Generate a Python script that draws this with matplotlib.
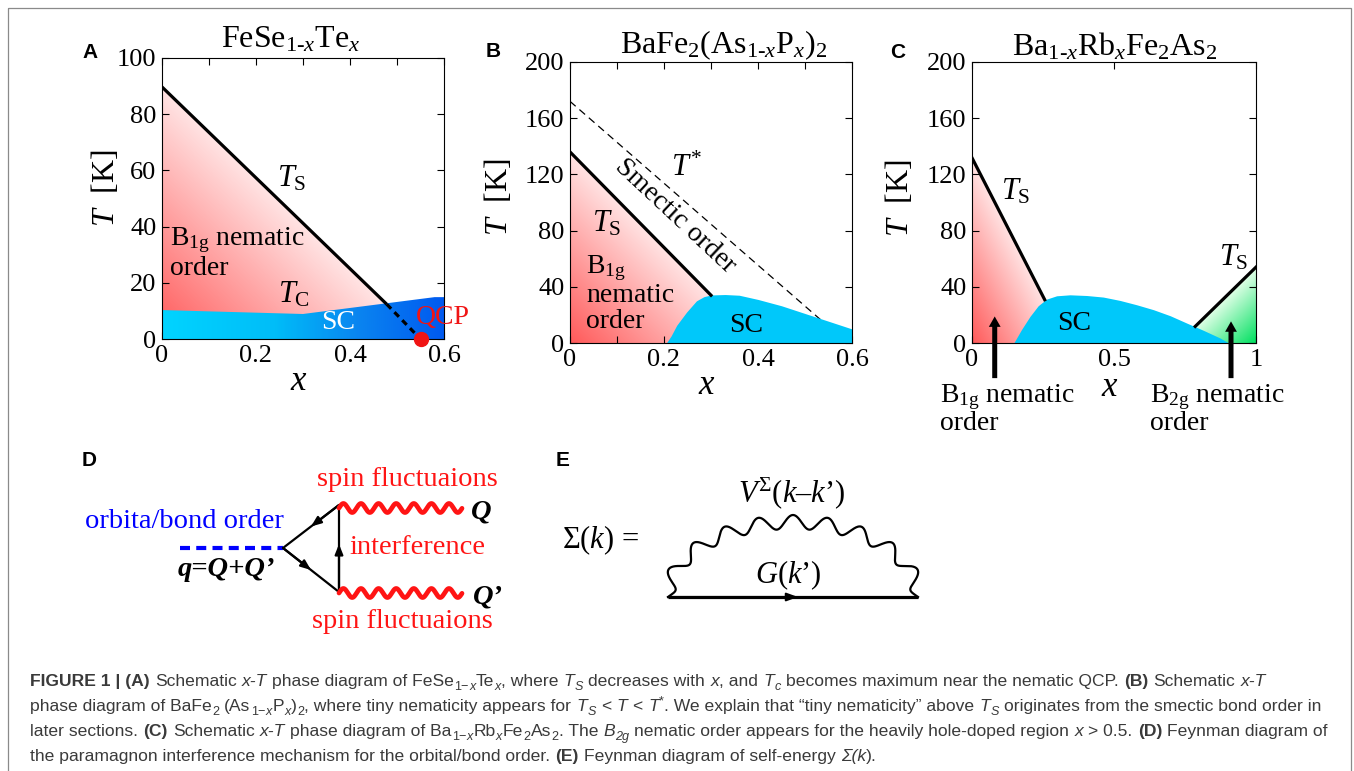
import numpy as np
import matplotlib
matplotlib.use("Agg")
import matplotlib.pyplot as plt
from matplotlib.colors import LinearSegmentedColormap
from matplotlib.patches import Polygon, Rectangle, FancyArrowPatch
from matplotlib.ticker import MultipleLocator, FuncFormatter

W, H = 1354, 771
SERIF = "Liberation Serif"
SANS = "Liberation Sans"

plt.rcParams.update({
    "font.family": SERIF,
    "mathtext.fontset": "custom",
    "mathtext.rm": SERIF,
    "mathtext.it": SERIF + ":italic",
    "mathtext.bf": SERIF + ":bold",
    "mathtext.sf": SANS,
})

# ── (A) FeSe1-xTex ────────────────────────────────────────────────
A_TS_X = [0.0, 0.478]          # T_S, solid part
A_TS_T = [89.7, 12.4]
A_QCP_X = 0.55                 # T_S -> 0
A_SC_X = [0.0, 0.30, 0.58, 0.60]
A_SC_T = [10.3, 8.9, 14.9, 14.9]

# ── (B) BaFe2(As1-xPx)2 ──────────────────────────────────────────
B_TS_X = [0.0, 0.30]
B_TS_T = [136.0, 34.0]
B_TS_END = 0.40
B_TSTAR_X = [0.0, 0.59]
B_TSTAR_T = [172.0, 0.0]
B_SC_X = [0.205, 0.215, 0.227, 0.248, 0.269, 0.285, 0.30, 0.33, 0.36,
          0.40, 0.45, 0.50, 0.55, 0.60]
B_SC_T = [0.0, 5.0, 12.6, 22.0, 30.0, 33.0, 34.2, 34.5, 34.0,
          31.0, 26.5, 21.0, 15.5, 10.0]

# ── (C) Ba1-xRbxFe2As2 ───────────────────────────────────────────
C_TS1_X = [0.0, 0.256]
C_TS1_T = [131.8, 30.8]
C_TS1_END = 0.335
C_TS2_X = [0.786, 1.0]
C_TS2_T = [11.8, 54.0]
C_TS2_START = 0.726
C_SC_X = [0.147, 0.174, 0.204, 0.233, 0.262, 0.298, 0.345, 0.404, 0.462,
          0.521, 0.58, 0.639, 0.698, 0.756, 0.815, 0.874, 0.904]
C_SC_T = [0.0, 9.5, 18.9, 26.5, 31.2, 33.6, 34.3, 33.8, 32.7,
          30.3, 27.2, 23.7, 19.4, 14.2, 9.0, 3.5, 0.0]
C_ARROW_X = [0.08, 0.912]
C_ARROW_T = [18.9, 15.4]

PINK = [(0.0, "#ff5a5a"), (0.5, "#ffe4e4"), (1.0, "#ffffff")]
GREEN = [(0.0, "#00e060"), (0.5, "#e2ffe8"), (1.0, "#ffffff")]
BLUE_SC = [(0.0, "#00d4ff"), (0.4, "#00bdf8"), (0.7, "#0a84f0"), (1.0, "#005af0")]
CYAN = "#00c8fa"

fig = plt.figure(figsize=(W / 100, H / 100), dpi=100)
fig.patch.set_facecolor("white")

# full-figure layer in pixel units for labels, diagrams and caption
ov = fig.add_axes([0, 0, 1, 1])
ov.set_xlim(0, W)
ov.set_ylim(H, 0)
ov.axis("off")


def panel(l, t, r, b):
    return fig.add_axes([l / W, 1 - b / H, (r - l) / W, (b - t) / H])


def grad_fill(ax, verts, stops, mode, z=1):
    verts = np.asarray(verts, float)
    poly = Polygon(verts, closed=True, fc="none", ec="none")
    ax.add_patch(poly)
    x0, y0 = verts.min(0)
    x1, y1 = verts.max(0)
    u, v = np.meshgrid(np.linspace(0, 1, 300), np.linspace(0, 1, 300))
    if mode == "ne":
        g = (u + v) / 2
    elif mode == "nw":
        g = ((1 - u) + v) / 2
    else:
        g = u
    cmap = LinearSegmentedColormap.from_list("g", stops)
    im = ax.imshow(g, extent=[x0, x1, y0, y1], origin="lower", cmap=cmap,
                   vmin=0, vmax=1, aspect="auto", interpolation="bilinear", zorder=z)
    im.set_clip_path(poly)


def setup(ax, xlim, ylim, xmaj, xmin, ymaj):
    ax.set_xlim(xlim)
    ax.set_ylim(ylim)
    ax.xaxis.set_major_locator(MultipleLocator(xmaj))
    if xmin:
        ax.xaxis.set_minor_locator(MultipleLocator(xmin))
    ax.yaxis.set_major_locator(MultipleLocator(ymaj))
    fmt = FuncFormatter(lambda v, p: f"{v:g}")
    ax.xaxis.set_major_formatter(fmt)
    ax.yaxis.set_major_formatter(fmt)
    ax.tick_params(which="both", direction="in", top=True, right=True,
                   length=5, width=0.8, labelsize=19, pad=4)
    for s in ax.spines.values():
        s.set_linewidth(0.8)
        s.set_zorder(6)


TXT = dict(ha="center", va="center", zorder=5)

# ── panel A ──
axA = panel(162, 58, 444, 339)
grad_fill(axA, [(0, 0), (A_TS_X[0], A_TS_T[0]), (A_QCP_X, 0)], PINK, "ne", 1)
grad_fill(axA, [(A_SC_X[0], 0)] + list(zip(A_SC_X, A_SC_T)) + [(A_SC_X[-1], 0)],
          BLUE_SC, "x", 2)
axA.plot(A_TS_X, A_TS_T, color="k", lw=2.3, zorder=3, solid_capstyle="butt")
axA.plot([A_TS_X[-1], A_QCP_X], [A_TS_T[-1], 0], color="k", lw=2.3,
         ls=(0, (2, 1.5)), zorder=3)
axA.plot([A_QCP_X], [0], "o", color="#f01414", ms=10, clip_on=False, zorder=7)
setup(axA, (0, 0.6), (0, 100), 0.2, 0.1, 20)
axA.text(0.276, 57, r"$T_{\mathrm{S}}$", fontsize=22, **TXT)
axA.text(0.281, 15.7, r"$T_{\mathrm{C}}$", fontsize=22, **TXT)
axA.text(0.018, 35.3, r"B$_{\mathrm{1g}}$ nematic", fontsize=20, ha="left", va="center", zorder=5)
axA.text(0.018, 25.2, "order", fontsize=20, ha="left", va="center", zorder=5)
axA.text(0.375, 5.7, "SC", fontsize=20, color="white", **TXT)
axA.text(0.54, 7.5, "QCP", fontsize=20, color="#f01414", ha="left", va="center",
         clip_on=False, zorder=7)

# ── panel B ──
axB = panel(570, 62, 852, 343)
grad_fill(axB, [(0, 0), (B_TS_X[0], B_TS_T[0]), (B_TS_END, 0)], PINK, "ne", 1)
axB.plot(B_TSTAR_X, B_TSTAR_T, color="k", lw=0.9, ls=(0, (6, 4)), zorder=1.5)
axB.fill_between(B_SC_X, 0, B_SC_T, color=CYAN, lw=0, zorder=2)
axB.plot(B_TS_X, B_TS_T, color="k", lw=2.3, zorder=3)
setup(axB, (0, 0.6), (0, 200), 0.2, 0.1, 40)
axB.text(0.078, 85, r"$T_{\mathrm{S}}$", fontsize=22, **TXT)
axB.text(0.248, 124, r"$T^{*}$", fontsize=22, **TXT)
axB.text(0.223, 90, "Smectic order", fontsize=20, rotation=-43,
         rotation_mode="anchor", **TXT)
for lab, tv in [(r"B$_{\mathrm{1g}}$", 53), ("nematic", 34), ("order", 15)]:
    axB.text(0.035, tv, lab, fontsize=20, ha="left", va="center", zorder=5)
axB.text(0.375, 12.6, "SC", fontsize=20, **TXT)

# ── panel C ──
axC = panel(972, 62, 1256, 343)
grad_fill(axC, [(0, 0), (C_TS1_X[0], C_TS1_T[0]), (C_TS1_END, 0)], PINK, "ne", 1)
grad_fill(axC, [(C_TS2_START, 0), (C_TS2_X[-1], C_TS2_T[-1]), (C_TS2_X[-1], 0)],
          GREEN, "nw", 1)
axC.fill_between(C_SC_X, 0, C_SC_T, color=CYAN, lw=0, zorder=2)
axC.plot(C_TS1_X, C_TS1_T, color="k", lw=2.3, zorder=3)
axC.plot(C_TS2_X, C_TS2_T, color="k", lw=2.3, zorder=3)
setup(axC, (0, 1), (0, 200), 0.5, None, 40)
axC.text(0.153, 107.7, r"$T_{\mathrm{S}}$", fontsize=22, **TXT)
axC.text(0.921, 60.4, r"$T_{\mathrm{S}}$", fontsize=22, **TXT)
axC.text(0.359, 14.2, "SC", fontsize=20, **TXT)
for xa, ta in zip(C_ARROW_X, C_ARROW_T):
    axC.annotate("", xy=(xa, ta), xytext=(xa, -25), annotation_clip=False,
                 arrowprops=dict(width=3.6, headwidth=8.5, headlength=7.5,
                                 facecolor="k", edgecolor="k", lw=0, shrink=0),
                 zorder=7)

# ── titles, axis labels, panel letters ──
TITLE = dict(fontsize=23, ha="center", va="baseline")
ov.text(291, 47, r"FeSe$_{1\text{-}x}$Te$_{x}$", **TITLE)
ov.text(724, 53, r"BaFe$_{2}$(As$_{1\text{-}x}$P$_{x}$)$_{2}$", **TITLE)
ov.text(1115, 55, r"Ba$_{1\text{-}x}$Rb$_{x}$Fe$_{2}$As$_{2}$", **TITLE)

for (xl, yl) in [(106, 188), (498.5, 197), (900, 198)]:
    ov.text(xl, yl, r"$T$  [K]", fontsize=23, rotation=90, ha="center", va="center")
for (xl, yl) in [(299, 382), (707, 385), (1110, 387)]:
    ov.text(xl, yl, r"$x$", fontsize=25, ha="center", va="center")

for lab, xl, yl in [("A", 90, 52.5), ("B", 493.5, 51.5), ("C", 897.5, 52.5),
                    ("D", 89.5, 460.5), ("E", 562.5, 460)]:
    ov.text(xl, yl, lab, fontsize=15, fontweight="bold", family=SANS,
            ha="center", va="center")

ov.text(940, 397, r"B$_{\mathrm{1g}}$ nematic", fontsize=20, ha="left", va="center")
ov.text(940, 423, "order", fontsize=20, ha="left", va="center")
ov.text(1150, 397, r"B$_{\mathrm{2g}}$ nematic", fontsize=20, ha="left", va="center")
ov.text(1150, 423, "order", fontsize=20, ha="left", va="center")

# ── (D) paramagnon interference diagram ──
V_LEFT = (283, 548)
V_TOP = (339, 505)
V_BOT = (339, 592)
WAVE_END = 462
RED = "#ff1414"

ov.plot([180, V_LEFT[0]], [548, 548], color="#0000ff", lw=3,
        ls=(0, (2.4, 1.5)), dash_capstyle="butt")


def arrow_edge(p0, p1, frac=0.5, lw=1.6):
    pm = (p0[0] + frac * (p1[0] - p0[0]), p0[1] + frac * (p1[1] - p0[1]))
    ov.plot([p0[0], p1[0]], [p0[1], p1[1]], color="k", lw=lw, solid_capstyle="round")
    ov.add_patch(FancyArrowPatch(p0, pm, arrowstyle="-|>,head_length=0.5,head_width=0.2",
                                 mutation_scale=12, lw=lw, color="k",
                                 shrinkA=0, shrinkB=0))


arrow_edge(V_TOP, V_LEFT)
arrow_edge(V_LEFT, V_BOT)
arrow_edge(V_BOT, V_TOP, frac=0.55)

for y0 in (508, 593):
    xs = np.linspace(V_TOP[0], WAVE_END, 400)
    ov.plot(xs, y0 - 4.5 * np.sin(2 * np.pi * (xs - V_TOP[0]) / 17.6),
            color=RED, lw=3.4, solid_capstyle="round")

DTXT = dict(fontsize=20.5, ha="center", va="center")
ov.text(407.5, 480, "spin fluctuaions", color=RED, **DTXT)
ov.text(402.5, 621.7, "spin fluctuaions", color=RED, **DTXT)
ov.text(417.5, 548, "interference", color=RED, **DTXT)
ov.text(184, 521.7, "orbita/bond order", color="#0000ff", **DTXT)
ov.text(226.5, 570, "q=Q+Q\u2019", fontweight="bold", style="italic", **DTXT)
ov.text(481.5, 511.7, "Q", fontweight="bold", style="italic", **DTXT)
ov.text(488, 596.7, "Q\u2019", fontweight="bold", style="italic", **DTXT)

# ── (E) self-energy diagram ──
E_X0, E_X1, E_Y = 668, 918, 597
E_RY = 75
ov.plot([E_X0, E_X1], [E_Y, E_Y], color="k", lw=2.3, solid_capstyle="butt")
ov.add_patch(FancyArrowPatch((E_X0, E_Y), (798, E_Y),
                             arrowstyle="-|>,head_length=0.55,head_width=0.2",
                             mutation_scale=12, lw=1.5, color="k",
                             shrinkA=0, shrinkB=0))

th = np.linspace(np.pi, 0, 3000)
cx, rx = (E_X0 + E_X1) / 2, (E_X1 - E_X0) / 2
bx = cx + rx * np.cos(th)
by = E_Y - E_RY * np.sin(th)
s = np.concatenate([[0], np.cumsum(np.hypot(np.diff(bx), np.diff(by)))])
tx, ty = np.gradient(bx), np.gradient(by)
nrm = np.hypot(tx, ty)
nx_, ny_ = -ty / nrm, tx / nrm
off = 7 * np.sin(2 * np.pi * 9.5 * s / s[-1])
ov.plot(bx + off * nx_, by + off * ny_, color="k", lw=1.6)

ETXT = dict(fontsize=22, ha="center", va="center")
ov.text(600, 540, r"$\Sigma$($k$) =", **ETXT)
ov.text(792, 493.3, r"$V^{\Sigma}$($k$–$k$’)", **ETXT)
ov.text(788, 575, r"$G$($k$’)", **ETXT)

# ── outer frame ──
ov.add_patch(Rectangle((8, 8), 1343, 800, fill=False, ec="#8a8a8a", lw=0.9))

# ── caption ──
CAP_SIZE = 12.6
CAP_COLOR = "#3a3a3a"
CAP_X0 = 30
CAP_Y = [686, 711, 736, 761]

CAPTION = [
    [("FIGURE 1 | (A)", "b"), (" Schematic ", "n"), ("x-T", "i"),
     (" phase diagram of FeSe", "n"), ("1\u2212", "sub"), ("x", "isub"), ("Te", "n"),
     ("x", "isub"), (", where ", "n"), ("T", "i"), ("S", "isub"),
     (" decreases with ", "n"), ("x", "i"), (", and ", "n"), ("T", "i"), ("c", "isub"),
     (" becomes maximum near the nematic QCP. ", "n"), ("(B)", "b"),
     (" Schematic ", "n"), ("x-T", "i")],
    [("phase diagram of BaFe", "n"), ("2", "sub"), (" (As", "n"), ("1\u2212", "sub"),
     ("x", "isub"), ("P", "n"), ("x", "isub"), (")", "n"), ("2", "sub"),
     (", where tiny nematicity appears for ", "n"), ("T", "i"), ("S", "isub"),
     (" < ", "n"), ("T", "i"), (" < ", "n"), ("T", "i"), ("*", "sup"),
     (". We explain that \u201ctiny nematicity\u201d above ", "n"), ("T", "i"),
     ("S", "isub"), (" originates from the smectic bond order in", "n")],
    [("later sections. ", "n"), ("(C)", "b"), (" Schematic ", "n"), ("x-T", "i"),
     (" phase diagram of Ba", "n"), ("1\u2212", "sub"), ("x", "isub"), ("Rb", "n"),
     ("x", "isub"), ("Fe", "n"), ("2", "sub"), ("As", "n"), ("2", "sub"),
     (". The ", "n"), ("B", "i"), ("2g", "isub"),
     (" nematic order appears for the heavily hole-doped region ", "n"), ("x", "i"),
     (" > 0.5. ", "n"), ("(D)", "b"), (" Feynman diagram of", "n")],
    [("the paramagnon interference mechanism for the orbital/bond order. ", "n"),
     ("(E)", "b"), (" Feynman diagram of self-energy ", "n"), ("\u03a3(k", "i"),
     (").", "n")],
]

renderer = fig.canvas.get_renderer()


def caption_line(x, y, parts):
    for txt, kind in parts:
        size = CAP_SIZE * 0.72 if kind in ("sub", "isub", "sup") else CAP_SIZE
        px = CAP_SIZE * 100 / 72
        dy = {"sub": 0.25 * px, "isub": 0.25 * px, "sup": -0.4 * px}.get(kind, 0)
        style = "italic" if kind in ("i", "isub") else "normal"
        weight = "bold" if kind == "b" else "normal"
        core = txt.strip(" ")
        lead = len(txt) - len(txt.lstrip(" "))
        trail = len(txt) - len(txt.rstrip(" ")) if core else 0
        sp = 0.278 * size * 100 / 72
        x += lead * sp
        if core:
            t = ov.text(x, y + dy, core, fontsize=size, family=SANS, style=style,
                        fontweight=weight, color=CAP_COLOR, ha="left", va="baseline")
            x += t.get_window_extent(renderer).width + 0.3
        x += trail * sp


for yl, parts in zip(CAP_Y, CAPTION):
    caption_line(CAP_X0, yl, parts)

fig.savefig("out.png", dpi=100, facecolor="white")
